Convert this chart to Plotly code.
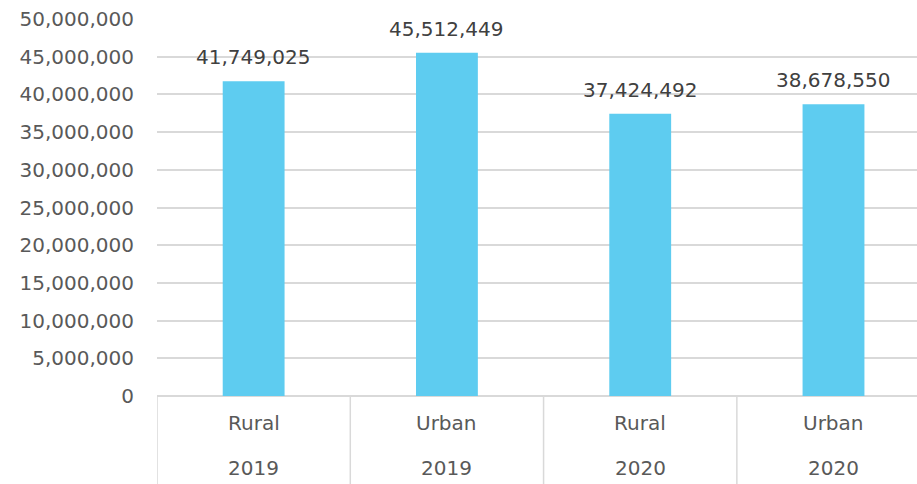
import plotly.graph_objects as go

# Population by area type and year
areas = ["Rural", "Urban", "Rural", "Urban"]
years = ["2019", "2019", "2020", "2020"]
population = [41749025, 45512449, 37424492, 38678550]
y_ticks = list(range(0, 50000001, 5000000))

FONT = "DejaVu Sans"
GRID = "#d9d9d9"
TICK_COLOR = "#595959"
LABEL_COLOR = "#404040"

positions = list(range(len(population)))

fig = go.Figure(
    go.Bar(
        x=positions,
        y=population,
        width=0.32,
        marker=dict(color="#5ECCF0", line=dict(width=0)),
        hoverinfo="skip",
    )
)

plot_h = 484 - 19 - 88

annotations = []
# value labels above each bar
for i, v in enumerate(population):
    annotations.append(dict(x=i, y=v, xref="x", yref="y", text=f"{v:,}",
                            showarrow=False, yanchor="bottom", yshift=10,
                            font=dict(family=FONT, size=20, color=LABEL_COLOR)))

# two-row category labels under each bar
for i, (a, yr) in enumerate(zip(areas, years)):
    annotations.append(dict(x=i, y=-27 / plot_h, xref="x", yref="paper", text=a,
                            showarrow=False, yanchor="middle",
                            font=dict(family=FONT, size=20, color=TICK_COLOR)))
    annotations.append(dict(x=i, y=-72 / plot_h, xref="x", yref="paper", text=yr,
                            showarrow=False, yanchor="middle",
                            font=dict(family=FONT, size=20, color=TICK_COLOR)))

# vertical dividers between category cells
shapes = []
for i in range(len(population) + 1):
    shapes.append(dict(type="line", xref="x", yref="paper",
                       x0=i - 0.5, x1=i - 0.5, y0=0, y1=-88 / plot_h,
                       line=dict(color=GRID, width=1.5)))

fig.update_layout(
    width=917,
    height=484,
    margin=dict(l=157, r=0, t=19, b=88),
    plot_bgcolor="white",
    paper_bgcolor="white",
    showlegend=False,
    annotations=annotations,
    shapes=shapes,
    xaxis=dict(
        range=[-0.5, 3.432],
        showticklabels=False,
        showgrid=False,
        zeroline=False,
        showline=False,
        ticks="",
    ),
    yaxis=dict(
        range=[0, 50000000],
        tickvals=y_ticks,
        ticktext=[f"{v:,}" for v in y_ticks],
        tickfont=dict(family=FONT, size=20, color=TICK_COLOR),
        showgrid=True,
        gridcolor=GRID,
        gridwidth=1.5,
        zeroline=True,
        zerolinecolor=GRID,
        zerolinewidth=1.5,
        showline=False,
        ticks="",
        ticklabelstandoff=22,
    ),
)

fig.write_html("out.html")
